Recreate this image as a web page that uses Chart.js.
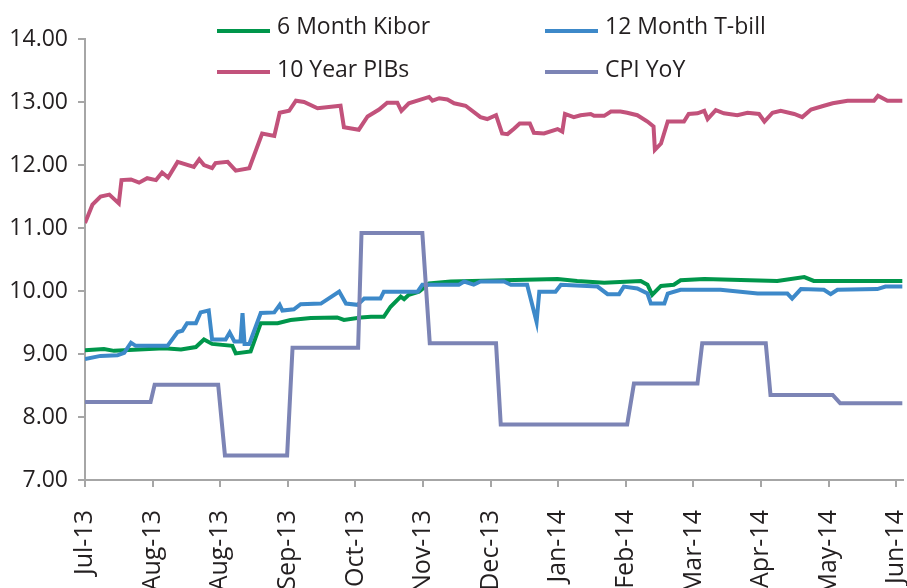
<!DOCTYPE html>
<html>
<head>
<meta charset="utf-8">
<script src="https://cdn.jsdelivr.net/npm/chart.js@4"></script>
<style>
    body { margin: 0; background: #fff; }
    #wrap { position: relative; width: 907px; height: 588px; }
    .legend-item { position: absolute; font: 23px "Open Sans", sans-serif; color: #231f20; line-height: 30px; padding-left: 60px; white-space: nowrap; }
    .legend-item span { position: absolute; left: 0; width: 53px; height: 4px; }
</style>
</head>
<body>
<div id="wrap">
    <canvas id="rateChart" width="907" height="588"></canvas>
    <div id="legend"></div>
</div>
<script>
const monthLabels = ["Jul-13", "Aug-13", "Aug-13", "Sep-13", "Oct-13", "Nov-13", "Dec-13",
    "Jan-14", "Feb-14", "Mar-14", "Apr-14", "May-14", "Jun-14"];

// x positions are in months from the first tick
const kiborX = [0, 0.28, 0.43, 1.17, 1.42, 1.64, 1.76, 1.88, 2.18, 2.23, 2.45, 2.60, 2.85, 3.04, 3.34, 3.73, 3.83, 4.08,
    4.23, 4.42, 4.52, 4.67, 4.72, 4.79, 4.94, 5.09, 5.41, 6.20, 6.99, 7.28, 7.68, 8.22, 8.32, 8.39, 8.52, 8.71, 8.81,
    9.16, 10.24, 10.64, 10.78, 11.84, 12.09];
const kiborY = [9.06, 9.08, 9.05, 9.09, 9.07, 9.11, 9.23, 9.16, 9.13, 9.01, 9.04, 9.49, 9.49, 9.54, 9.57, 9.58, 9.54, 9.58,
    9.59, 9.59, 9.75, 9.91, 9.87, 9.94, 9.99, 10.12, 10.15, 10.17, 10.19, 10.16, 10.13, 10.16, 10.10, 9.94, 10.08, 10.10, 10.17,
    10.19, 10.16, 10.22, 10.16, 10.16, 10.16];

const tbillX = [0, 0.23, 0.48, 0.58, 0.68, 0.75, 1.22, 1.37, 1.44, 1.51, 1.64, 1.71, 1.83, 1.88, 2.08, 2.14, 2.21, 2.30,
    2.33, 2.36, 2.43, 2.60, 2.80, 2.88, 2.92, 3.09, 3.19, 3.49, 3.76, 3.86, 4.03, 4.13, 4.37, 4.42, 4.92, 4.99, 5.53,
    5.61, 5.75, 5.85, 6.20, 6.30, 6.54, 6.68, 6.72, 6.96, 7.04, 7.58, 7.73, 7.90, 7.97, 8.17, 8.32, 8.37, 8.57, 8.62,
    8.81, 9.40, 9.95, 10.39, 10.46, 10.59, 10.93, 11.03, 11.13, 11.72, 11.84, 12.09];
const tbillY = [8.92, 8.97, 8.98, 9.02, 9.18, 9.13, 9.13, 9.35, 9.37, 9.49, 9.49, 9.66, 9.69, 9.23, 9.23, 9.34, 9.20, 9.20,
    9.65, 9.16, 9.16, 9.65, 9.66, 9.78, 9.69, 9.71, 9.79, 9.80, 9.99, 9.80, 9.78, 9.88, 9.88, 9.99, 9.99, 10.10, 10.10,
    10.15, 10.10, 10.15, 10.15, 10.10, 10.10, 9.51, 9.99, 9.99, 10.10, 10.07, 9.95, 9.95, 10.07, 10.04, 9.96, 9.80, 9.80, 9.96,
    10.02, 10.02, 9.96, 9.96, 9.88, 10.03, 10.02, 9.95, 10.02, 10.03, 10.07, 10.07];

const pibX = [0, 0.11, 0.23, 0.36, 0.50, 0.54, 0.68, 0.80, 0.92, 1.05, 1.14, 1.23, 1.37, 1.61, 1.69, 1.76, 1.88, 1.93,
    2.11, 2.23, 2.43, 2.62, 2.80, 2.88, 3.02, 3.12, 3.24, 3.44, 3.78, 3.83, 4.05, 4.18, 4.35, 4.47, 4.62, 4.68, 4.79,
    5.09, 5.14, 5.24, 5.36, 5.46, 5.63, 5.85, 5.95, 6.08, 6.17, 6.25, 6.35, 6.43, 6.58, 6.64, 6.79, 6.99, 7.06, 7.10,
    7.23, 7.33, 7.48, 7.53, 7.68, 7.78, 7.92, 8.02, 8.17, 8.32, 8.41, 8.43, 8.52, 8.62, 8.86, 8.93, 9.06, 9.16, 9.21,
    9.33, 9.45, 9.65, 9.80, 9.97, 10.05, 10.17, 10.29, 10.49, 10.61, 10.74, 10.93, 11.06, 11.28, 11.67, 11.73, 11.87, 12.09];
const pibY = [11.08, 11.37, 11.50, 11.53, 11.39, 11.76, 11.77, 11.72, 11.79, 11.76, 11.88, 11.80, 12.05, 11.97, 12.09, 12.00,
    11.95, 12.03, 12.05, 11.91, 11.95, 12.50, 12.46, 12.83, 12.86, 13.02, 13.00, 12.90, 12.94, 12.60, 12.56, 12.77, 12.88,
    12.99, 12.99, 12.86, 12.98, 13.08, 13.02, 13.06, 13.04, 12.98, 12.94, 12.76, 12.73, 12.79, 12.50, 12.49, 12.58, 12.66,
    12.66, 12.51, 12.50, 12.57, 12.53, 12.81, 12.76, 12.79, 12.81, 12.78, 12.78, 12.85, 12.85, 12.83, 12.79, 12.69, 12.61,
    12.24, 12.34, 12.69, 12.69, 12.81, 12.82, 12.86, 12.73, 12.87, 12.82, 12.79, 12.83, 12.81, 12.69, 12.83, 12.86, 12.81,
    12.76, 12.88, 12.94, 12.98, 13.02, 13.02, 13.10, 13.02, 13.02];

const cpiX = [0, 0.97, 1.03, 1.97, 2.07, 2.99, 3.07, 4.04, 4.09, 4.99, 5.10, 6.08, 6.15, 8.02, 8.12, 9.06, 9.13, 10.07,
    10.14, 11.06, 11.17, 12.09];
const cpiY = [8.24, 8.24, 8.51, 8.51, 7.39, 7.39, 9.10, 9.10, 10.92, 10.92, 9.17, 9.17, 7.88, 7.88, 8.53, 8.53, 9.17, 9.17,
    8.35, 8.35, 8.22, 8.22];

const yTicks = [7, 8, 9, 10, 11, 12, 13, 14];

function points(xs, ys) {
    return xs.map((x, i) => ({ x: x, y: ys[i] }));
}

const series = [
    { label: "6 Month Kibor", data: points(kiborX, kiborY), borderColor: "#00964b", order: 3 },
    { label: "12 Month T-bill", data: points(tbillX, tbillY), borderColor: "#3d89c9", order: 2 },
    { label: "10 Year PIBs", data: points(pibX, pibY), borderColor: "#c2527b", order: 1 },
    { label: "CPI YoY", data: points(cpiX, cpiY), borderColor: "#7c84b5", order: 0 }
];

const axisColor = "#a6a6a6";

new Chart(document.getElementById("rateChart"), {
    type: "line",
    data: {
        datasets: series.map(s => ({
            label: s.label,
            data: s.data,
            borderColor: s.borderColor,
            borderWidth: 4,
            pointRadius: 0,
            tension: 0,
            fill: false,
            order: s.order
        }))
    },
    options: {
        responsive: false,
        animation: false,
        layout: { padding: { top: 39, right: 4, left: 0, bottom: 0 } },
        plugins: { legend: { display: false }, tooltip: { enabled: false } },
        scales: {
            x: {
                type: "linear",
                min: 0,
                max: 12.1,
                border: { color: axisColor, width: 2 },
                grid: { drawOnChartArea: false, color: axisColor, lineWidth: 2, tickLength: 7 },
                ticks: {
                    stepSize: 1,
                    includeBounds: false,
                    autoSkip: false,
                    minRotation: 90,
                    maxRotation: 90,
                    padding: 23,
                    color: "#231f20",
                    font: { family: "Open Sans", size: 25 },
                    callback: v => monthLabels[v]
                },
                afterFit: scale => {
                    scale.height = 108;
                    scale.paddingLeft = 0;
                    scale.paddingRight = 0;
                }
            },
            y: {
                min: 7,
                max: 14,
                border: { color: axisColor, width: 2 },
                grid: { drawOnChartArea: false, color: axisColor, lineWidth: 2, tickLength: 7 },
                afterBuildTicks: scale => {
                    scale.ticks = yTicks.map(v => ({ value: v }));
                },
                ticks: {
                    padding: 10,
                    color: "#231f20",
                    font: { family: "Open Sans", size: 23 },
                    callback: v => v.toFixed(2)
                },
                afterFit: scale => {
                    scale.width = 85;
                    scale.paddingTop = 0;
                    scale.paddingBottom = 0;
                }
            }
        }
    }
});

// legend in two columns, like the original
const legendPos = [[217, 10], [545, 10], [217, 53], [545, 53]];
const legend = document.getElementById("legend");
series.forEach((s, i) => {
    const item = document.createElement("div");
    item.className = "legend-item";
    item.style.left = legendPos[i][0] + "px";
    item.style.top = legendPos[i][1] + "px";
    const swatch = document.createElement("span");
    swatch.style.background = s.borderColor;
    swatch.style.top = (i < 2 ? 19 : 17) + "px";
    item.appendChild(swatch);
    item.appendChild(document.createTextNode(s.label));
    legend.appendChild(item);
});
</script>
</body>
</html>
